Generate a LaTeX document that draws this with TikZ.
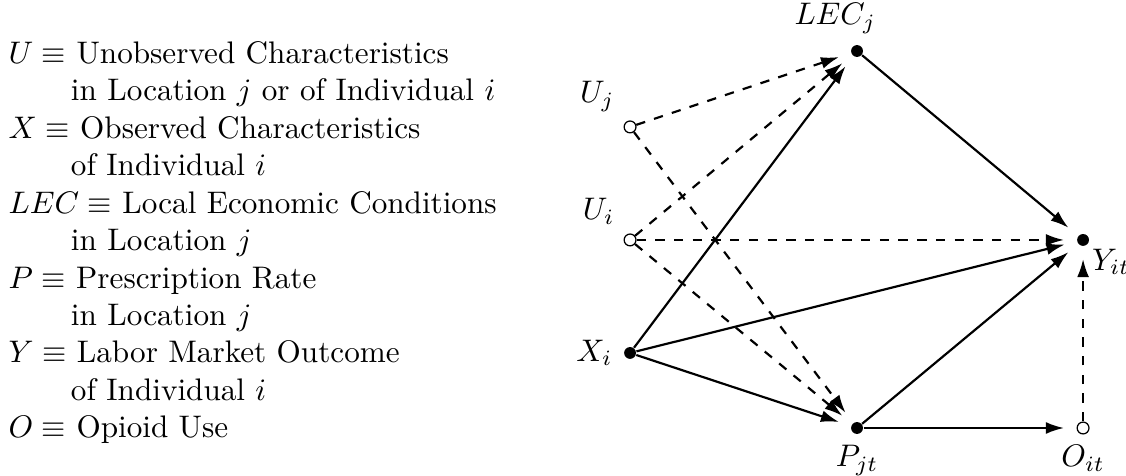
\documentclass[tikz,border=0pt]{standalone}
\usetikzlibrary{arrows.meta}
\tikzset{
	obs/.style={circle,fill=black,inner sep=0pt,minimum size=3.8pt},
	unobs/.style={circle,draw=black,fill=white,thin,inner sep=0pt,minimum size=3.8pt},
	cause/.style={-{Latex[length=5.8pt,width=3.8pt]},line width=0.7pt,shorten >=4pt},
	maybe/.style={cause,dashed}
}
\begin{document}
\begin{tikzpicture}
		\useasboundingbox (0,0) rectangle (12.694,5.366);
		\node[anchor=north west,inner sep=0pt,align=left] (legend) at (0.09,4.904) {%
			$U \equiv$ Unobserved Characteristics\\
			\qquad in Location $j$ or of Individual $i$\\
			$X \equiv$ Observed Characteristics\\
			\qquad of Individual $i$\\
			$LEC \equiv$ Local Economic Conditions\\
			\qquad in Location $j$\\
			$P \equiv$ Prescription Rate\\
			\qquad in Location $j$\\
			$Y \equiv$ Labor Market Outcome\\
			\qquad of Individual $i$\\
			$O \equiv$ Opioid Use};
		\node[obs,label={[xshift=-7pt]above:$LEC_j$}] (LEC) at (9.662,4.791) {};
		\node[unobs,label={above left:$U_j$}] (Uj) at (7.103,3.935) {};
		\node[unobs,label={above left:$U_i$}] (Ui) at (7.103,2.661) {};
		\node[obs,label={left:$X_i$}] (Xi) at (7.103,1.387) {};
		\node[obs,label={below:$P_{jt}$}] (P) at (9.662,0.541) {};
		\node[unobs,label={below:$O_{it}$}] (O) at (12.21,0.541) {};
		\node[obs,label={[label distance=-3pt]below right:$Y_{it}$}] (Y) at (12.21,2.661) {};
		\foreach \a/\b in {Xi/LEC,Xi/P,Xi/Y,LEC/Y,P/Y,P/O} {
			\draw[cause] (\a) -- (\b);
		}
		\foreach \a/\b in {Uj/LEC,Ui/LEC,Uj/P,Ui/P,Ui/Y,O/Y} {
			\draw[maybe] (\a) -- (\b);
		}
	\end{tikzpicture}
\end{document}
